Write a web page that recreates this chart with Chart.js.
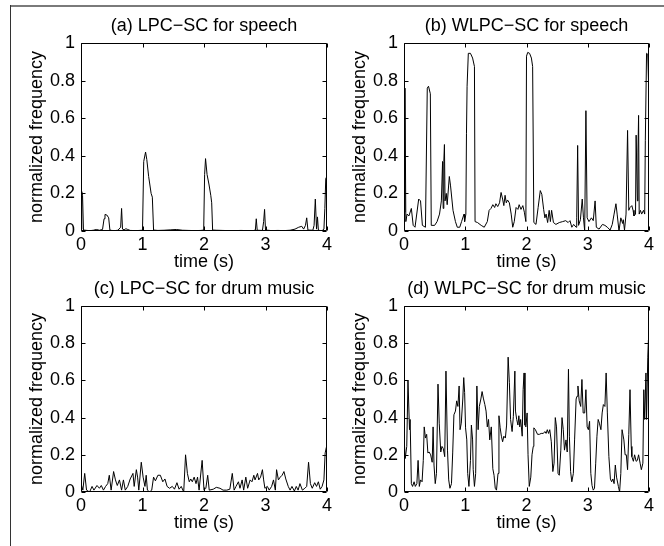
<!DOCTYPE html>
<html>
<head>
<meta charset="utf-8">
<script src="https://cdn.jsdelivr.net/npm/chart.js@4.4.1/dist/chart.umd.min.js"></script>
<style>
  body { margin: 0; background: #fff; }
  #page { position: relative; width: 664px; height: 546px; overflow: hidden; background: #fff; }
  #page canvas { position: absolute; }
  .frameTop { position: absolute; left: 10px; top: 5px; width: 654px; height: 2px; background: #7a7a7a; }
  .frameLeft { position: absolute; left: 10px; top: 5px; width: 1px; height: 541px; background: #333; }
</style>
</head>
<body>
<div id="page">
  <div class="frameTop"></div>
  <div class="frameLeft"></div>
  <canvas id="chartA"></canvas>
  <canvas id="chartB"></canvas>
  <canvas id="chartC"></canvas>
  <canvas id="chartD"></canvas>
</div>
<script>
// ---- data ----
const xTicks = [0, 1, 2, 3, 4]
const yTicks = [0, 0.2, 0.4, 0.6, 0.8, 1]
const xLabel = 'time (s)'
const yLabel = 'normalized frequency'

const titles = [
  '(a) LPC\u2212SC for speech',
  '(b) WLPC\u2212SC for speech',
  '(c) LPC\u2212SC for drum music',
  '(d) WLPC\u2212SC for drum music'
]

// (a) LPC-SC, speech
const timeA = [0, 0.012, 0.025, 0.04, 0.1, 0.15, 0.2, 0.25, 0.3, 0.35, 0.375, 0.39, 0.42, 0.45, 0.47, 0.5, 0.55, 0.6, 0.645, 0.66,
  0.675, 0.7, 0.73, 0.76, 0.8, 0.9, 1.0, 1.02, 1.05, 1.07, 1.1, 1.14, 1.16, 1.18, 1.25, 1.35, 1.45, 1.55, 1.65, 1.75,
  1.85, 1.95, 1.995, 2.01, 2.025, 2.05, 2.08, 2.11, 2.125, 2.14, 2.2, 2.3, 2.4, 2.5, 2.6, 2.7, 2.8, 2.835, 2.85, 2.865,
  2.95, 2.97, 2.985, 3.0, 3.1, 3.2, 3.3, 3.4, 3.48, 3.54, 3.59, 3.62, 3.65, 3.67, 3.69, 3.77, 3.79, 3.81, 3.83, 3.845,
  3.86, 3.88, 3.92, 3.95, 3.965, 3.98, 4.0]
const freqA = [0.01, 0.21, 0.19, 0.005, 0.003, 0.002, 0.004, 0.008, 0.004, 0.008, 0.065, 0.088, 0.085, 0.07, 0.005, 0.003, 0.002, 0.004, 0.02, 0.12,
  0.01, 0.006, 0.012, 0.008, 0.003, 0.002, 0.004, 0.37, 0.42, 0.38, 0.29, 0.2, 0.18, 0.005, 0.003, 0.004, 0.006, 0.008, 0.004, 0.003,
  0.002, 0.003, 0.005, 0.3, 0.385, 0.3, 0.25, 0.19, 0.15, 0.005, 0.004, 0.003, 0.002, 0.002, 0.003, 0.002, 0.002, 0.005, 0.065, 0.004,
  0.003, 0.05, 0.115, 0.005, 0.002, 0.003, 0.002, 0.004, 0.01, 0.02, 0.025, 0.01, 0.03, 0.07, 0.005, 0.004, 0.03, 0.17, 0.01, 0.075,
  0.005, 0.003, 0.002, 0.01, 0.12, 0.28, 0.29]

// (b) WLPC-SC, speech
const timeB = [0, 0.016, 0.03, 0.05, 0.08, 0.12, 0.15, 0.18, 0.24, 0.27, 0.30, 0.35, 0.38, 0.40, 0.43, 0.445, 0.50, 0.54, 0.58, 0.61,
  0.63, 0.64, 0.65, 0.66, 0.67, 0.69, 0.705, 0.74, 0.76, 0.80, 0.84, 0.87, 0.91, 0.94, 0.98, 0.99, 1.01, 1.02, 1.03, 1.05,
  1.085, 1.12, 1.15, 1.16, 1.20, 1.26, 1.31, 1.36, 1.39, 1.42, 1.45, 1.48, 1.50, 1.53, 1.56, 1.585, 1.61, 1.63, 1.65, 1.67,
  1.69, 1.72, 1.75, 1.775, 1.80, 1.83, 1.86, 1.88, 1.91, 1.94, 1.965, 1.99, 2.00, 2.02, 2.05, 2.08, 2.10, 2.12, 2.155, 2.19,
  2.225, 2.25, 2.28, 2.30, 2.32, 2.345, 2.37, 2.39, 2.41, 2.44, 2.48, 2.535, 2.59, 2.64, 2.68, 2.71, 2.74, 2.77, 2.81, 2.82,
  2.835, 2.85, 2.88, 2.91, 2.93, 2.95, 2.97, 2.99, 3.02, 3.06, 3.09, 3.12, 3.14, 3.185, 3.24, 3.28, 3.32, 3.365, 3.40, 3.43,
  3.46, 3.48, 3.51, 3.54, 3.57, 3.58, 3.60, 3.625, 3.65, 3.67, 3.69, 3.72, 3.74, 3.755, 3.78, 3.79, 3.81, 3.82, 3.83, 3.84,
  3.86, 3.88, 3.91, 3.93, 3.94, 3.96, 3.98, 4.0]
const freqB = [0.10, 0.76, 0.05, 0.09, 0.08, 0.12, 0.03, 0.02, 0.17, 0.16, 0.03, 0.02, 0.76, 0.77, 0.73, 0.03, 0.03, 0.05, 0.09, 0.16,
  0.37, 0.12, 0.37, 0.46, 0.16, 0.20, 0.14, 0.29, 0.24, 0.11, 0.05, 0.02, 0.02, 0.05, 0.09, 0.05, 0.09, 0.52, 0.77, 0.945,
  0.945, 0.92, 0.875, 0.05, 0.045, 0.03, 0.02, 0.05, 0.11, 0.12, 0.14, 0.125, 0.145, 0.13, 0.15, 0.205, 0.17, 0.135, 0.19, 0.15,
  0.165, 0.15, 0.09, 0.02, 0.05, 0.125, 0.115, 0.14, 0.115, 0.135, 0.10, 0.05, 0.93, 0.95, 0.945, 0.92, 0.875, 0.045, 0.035, 0.125,
  0.215, 0.195, 0.115, 0.07, 0.09, 0.045, 0.11, 0.05, 0.11, 0.045, 0.035, 0.045, 0.05, 0.055, 0.045, 0.055, 0.02, 0.035, 0.02, 0.07,
  0.455, 0.03, 0.06, 0.17, 0.07, 0.0, 0.64, 0.07, 0.05, 0.07, 0.055, 0.16, 0.02, 0.01, 0.035, 0.03, 0.02, 0.005, 0.035, 0.09,
  0.145, 0.09, 0.0, 0.07, 0.04, 0.06, 0.005, 0.09, 0.535, 0.11, 0.125, 0.135, 0.11, 0.08, 0.09, 0.51, 0.16, 0.42, 0.615, 0.09,
  0.11, 0.09, 0.11, 0.09, 0.48, 0.945, 0.94, 0.70]

// (c) LPC-SC, drum music
const timeC = [0, 0.03, 0.06, 0.09, 0.14, 0.18, 0.21, 0.26, 0.30, 0.33, 0.365, 0.40, 0.435, 0.46, 0.49, 0.53, 0.56, 0.59, 0.625, 0.66,
  0.69, 0.72, 0.76, 0.80, 0.845, 0.865, 0.90, 0.92, 0.94, 0.98, 1.01, 1.04, 1.06, 1.08, 1.115, 1.15, 1.18, 1.21, 1.25, 1.29,
  1.33, 1.365, 1.40, 1.44, 1.485, 1.52, 1.56, 1.595, 1.63, 1.67, 1.70, 1.73, 1.76, 1.785, 1.81, 1.84, 1.87, 1.895, 1.92, 1.97,
  2.00, 2.03, 2.06, 2.085, 2.15, 2.20, 2.26, 2.31, 2.37, 2.42, 2.46, 2.49, 2.52, 2.56, 2.585, 2.62, 2.645, 2.68, 2.71, 2.75,
  2.78, 2.81, 2.83, 2.87, 2.89, 2.92, 2.95, 2.97, 2.99, 3.03, 3.06, 3.10, 3.13, 3.16, 3.18, 3.21, 3.24, 3.27, 3.30, 3.33,
  3.37, 3.40, 3.43, 3.47, 3.50, 3.53, 3.56, 3.60, 3.64, 3.67, 3.70, 3.73, 3.76, 3.80, 3.83, 3.86, 3.89, 3.92, 3.95, 3.97,
  3.99, 4.0]
const freqC = [0.045, 0.01, 0.10, 0.01, 0.0, 0.03, 0.01, 0.035, 0.02, 0.035, 0.01, 0.03, 0.045, 0.09, 0.01, 0.11, 0.065, 0.035, 0.065, 0.01,
  0.065, 0.01, 0.03, 0.07, 0.10, 0.03, 0.12, 0.08, 0.01, 0.16, 0.08, 0.03, 0.09, 0.01, 0.0, 0.01, 0.08, 0.06, 0.09, 0.09,
  0.055, 0.07, 0.03, 0.02, 0.03, 0.015, 0.05, 0.015, 0.03, 0.0, 0.20, 0.10, 0.055, 0.07, 0.055, 0.08, 0.045, 0.08, 0.01, 0.17,
  0.01, 0.02, 0.09, 0.01, 0.015, 0.025, 0.02, 0.01, 0.01, 0.015, 0.10, 0.01, 0.03, 0.055, 0.02, 0.065, 0.01, 0.08, 0.02, 0.065,
  0.055, 0.09, 0.065, 0.10, 0.065, 0.08, 0.12, 0.065, 0.02, 0.03, 0.01, 0.03, 0.065, 0.01, 0.12, 0.065, 0.08, 0.09, 0.11, 0.07,
  0.03, 0.01, 0.03, 0.005, 0.03, 0.01, 0.045, 0.01, 0.02, 0.03, 0.16, 0.045, 0.02, 0.05, 0.03, 0.055, 0.015, 0.03, 0.065, 0.21,
  0.24, 0.17]

// (d) WLPC-SC, drum music
const timeD = [0, 0.02, 0.045, 0.065, 0.09, 0.10, 0.12, 0.14, 0.165, 0.185, 0.21, 0.23, 0.25, 0.27, 0.295, 0.315, 0.33, 0.35, 0.37, 0.39,
  0.41, 0.435, 0.46, 0.475, 0.49, 0.51, 0.53, 0.555, 0.575, 0.60, 0.62, 0.64, 0.665, 0.685, 0.71, 0.73, 0.75, 0.775, 0.795, 0.815,
  0.84, 0.86, 0.88, 0.90, 0.915, 0.935, 0.96, 0.975, 0.99, 1.005, 1.025, 1.04, 1.06, 1.085, 1.10, 1.12, 1.13, 1.15, 1.17, 1.19,
  1.21, 1.23, 1.255, 1.275, 1.295, 1.32, 1.34, 1.36, 1.38, 1.40, 1.425, 1.45, 1.47, 1.49, 1.51, 1.535, 1.55, 1.57, 1.59, 1.61,
  1.63, 1.655, 1.675, 1.70, 1.72, 1.74, 1.765, 1.785, 1.81, 1.82, 1.84, 1.86, 1.875, 1.89, 1.905, 1.93, 1.945, 1.96, 1.975, 1.99,
  2.01, 2.025, 2.045, 2.07, 2.09, 2.11, 2.12, 2.145, 2.18, 2.21, 2.24, 2.275, 2.30, 2.32, 2.34, 2.36, 2.38, 2.405, 2.43, 2.45,
  2.47, 2.49, 2.515, 2.535, 2.56, 2.58, 2.60, 2.62, 2.645, 2.665, 2.685, 2.70, 2.72, 2.74, 2.765, 2.785, 2.81, 2.825, 2.84, 2.86,
  2.885, 2.905, 2.925, 2.95, 2.97, 2.99, 3.01, 3.03, 3.05, 3.07, 3.09, 3.11, 3.13, 3.15, 3.17, 3.19, 3.215, 3.235, 3.255, 3.28,
  3.30, 3.32, 3.345, 3.37, 3.39, 3.41, 3.43, 3.45, 3.47, 3.50, 3.52, 3.54, 3.56, 3.59, 3.61, 3.63, 3.65, 3.67, 3.69, 3.71,
  3.72, 3.745, 3.765, 3.79, 3.81, 3.83, 3.855, 3.875, 3.90, 3.915, 3.93, 3.95, 3.96, 3.98, 3.99, 4.0]
const freqD = [0.30, 0.18, 0.245, 0.60, 0.335, 0.39, 0.045, 0.03, 0.055, 0.03, 0.045, 0.17, 0.03, 0.065, 0.055, 0.17, 0.35, 0.29, 0.31, 0.21,
  0.215, 0.20, 0.16, 0.35, 0.145, 0.045, 0.10, 0.58, 0.37, 0.215, 0.245, 0.235, 0.19, 0.65, 0.225, 0.065, 0.02, 0.045, 0.21, 0.415,
  0.435, 0.49, 0.46, 0.57, 0.335, 0.37, 0.50, 0.615, 0.535, 0.345, 0.28, 0.10, 0.03, 0.17, 0.36, 0.28, 0.12, 0.03, 0.10, 0.57,
  0.335, 0.46, 0.50, 0.54, 0.505, 0.47, 0.435, 0.35, 0.39, 0.28, 0.35, 0.125, 0.09, 0.02, 0.01, 0.10, 0.41, 0.345, 0.30, 0.27,
  0.30, 0.29, 0.36, 0.725, 0.59, 0.39, 0.325, 0.405, 0.65, 0.435, 0.39, 0.36, 0.41, 0.35, 0.39, 0.30, 0.55, 0.64, 0.36, 0.35,
  0.425, 0.20, 0.03, 0.08, 0.20, 0.245, 0.345, 0.335, 0.31, 0.31, 0.315, 0.315, 0.325, 0.315, 0.335, 0.315, 0.335, 0.27, 0.11, 0.155,
  0.40, 0.35, 0.10, 0.09, 0.225, 0.40, 0.335, 0.225, 0.28, 0.215, 0.66, 0.30, 0.11, 0.055, 0.10, 0.28, 0.50, 0.515, 0.57, 0.49,
  0.46, 0.605, 0.425, 0.425, 0.55, 0.35, 0.335, 0.38, 0.10, 0.035, 0.01, 0.02, 0.155, 0.30, 0.39, 0.37, 0.335, 0.425, 0.47, 0.46,
  0.64, 0.425, 0.19, 0.07, 0.055, 0.07, 0.045, 0.145, 0.08, 0.03, 0.0, 0.10, 0.335, 0.28, 0.20, 0.20, 0.12, 0.31, 0.55, 0.245,
  0.19, 0.165, 0.20, 0.165, 0.17, 0.20, 0.155, 0.12, 0.155, 0.55, 0.39, 0.64, 0.39, 0.725, 0.815, 0.82]

// ---- layout: plot boxes in page pixels ----
const boxes = [
  { id: 'chartA', left: 81, top: 43, right: 327, bottom: 231 },
  { id: 'chartB', left: 404, top: 43, right: 649, bottom: 231 },
  { id: 'chartC', left: 81, top: 306, right: 327, bottom: 492 },
  { id: 'chartD', left: 404, top: 306, right: 649, bottom: 492 }
]
const series = [[timeA, freqA], [timeB, freqB], [timeC, freqC], [timeD, freqD]]

const AXIS_W = 60   // space left of the plot
const TITLE_H = 35  // space above the plot
const XAXIS_H = 42  // space below the plot
const RIGHT_PAD = 10
const FONT = { family: 'Liberation Sans, Arial, Helvetica, sans-serif', size: 18 }
const LINE_H = FONT.size * 1.2
const TITLE_MID = 18 // title centre, px below canvas top

Chart.defaults.font.family = FONT.family
Chart.defaults.color = '#000'

// matlab-ish box with inward ticks on all four sides
const boxTicks = {
  id: 'boxTicks',
  afterDatasetsDraw(chart) {
    const { ctx, chartArea: a, scales: { x, y } } = chart
    const L = Math.round(a.left) + 0.5
    const R = Math.round(a.right) - 0.5
    const T = Math.round(a.top) + 0.5
    const B = Math.round(a.bottom) - 0.5
    const len = 4
    ctx.save()
    ctx.strokeStyle = '#000'
    ctx.lineWidth = 1
    ctx.beginPath()
    ctx.rect(L, T, R - L, B - T)
    xTicks.forEach(v => {
      const px = Math.round(x.getPixelForValue(v)) + 0.5
      ctx.moveTo(px, B); ctx.lineTo(px, B - len)
      ctx.moveTo(px, T); ctx.lineTo(px, T + len)
    })
    yTicks.forEach(v => {
      const py = Math.round(y.getPixelForValue(v)) + 0.5
      ctx.moveTo(L, py); ctx.lineTo(L + len, py)
      ctx.moveTo(R, py); ctx.lineTo(R - len, py)
    })
    ctx.stroke()
    ctx.restore()
  }
}

function makeChart(box, title, times, values) {
  const canvas = document.getElementById(box.id)
  const w = (box.right - box.left) + AXIS_W + RIGHT_PAD
  const h = (box.bottom - box.top) + TITLE_H + XAXIS_H
  canvas.width = w
  canvas.height = h
  canvas.style.left = (box.left - AXIS_W) + 'px'
  canvas.style.top = (box.top - TITLE_H) + 'px'
  canvas.style.width = w + 'px'
  canvas.style.height = h + 'px'

  const points = times.map((t, i) => ({ x: t, y: values[i] }))

  new Chart(canvas, {
    type: 'line',
    data: {
      datasets: [{
        data: points,
        borderColor: '#000',
        borderWidth: 1,
        pointRadius: 0,
        tension: 0,
        fill: false
      }]
    },
    options: {
      responsive: false,
      animation: false,
      devicePixelRatio: 1,
      layout: { padding: { left: 0, right: RIGHT_PAD, top: 0, bottom: 0 } },
      plugins: {
        legend: { display: false },
        tooltip: { enabled: false },
        title: {
          display: true,
          text: title,
          fullSize: false,
          color: '#000',
          font: { size: FONT.size, weight: 'normal' },
          padding: { top: TITLE_MID - LINE_H / 2, bottom: TITLE_H - (TITLE_MID - LINE_H / 2) - LINE_H }
        }
      },
      scales: {
        x: {
          type: 'linear',
          min: 0,
          max: 4,
          grid: { display: false, drawTicks: false },
          border: { display: false },
          afterBuildTicks: s => { s.ticks = xTicks.map(v => ({ value: v })) },
          afterFit: s => { s.height = XAXIS_H },
          ticks: { padding: 3, color: '#000', font: { size: FONT.size }, maxRotation: 0, callback: v => String(v) },
          title: { display: true, text: xLabel, color: '#000', font: { size: FONT.size }, padding: { top: 0, bottom: 0 } }
        },
        y: {
          type: 'linear',
          min: 0,
          max: 1,
          grid: { display: false, drawTicks: false },
          border: { display: false },
          afterBuildTicks: s => { s.ticks = yTicks.map(v => ({ value: v })) },
          afterFit: s => { s.width = AXIS_W },
          ticks: { padding: 6, color: '#000', font: { size: FONT.size }, callback: v => String(v) },
          title: { display: true, text: yLabel, color: '#000', font: { size: FONT.size }, padding: { top: 16 - LINE_H / 2, bottom: 0 } }
        }
      }
    },
    plugins: [boxTicks]
  })
}

boxes.forEach((b, i) => makeChart(b, titles[i], series[i][0], series[i][1]))
</script>
</body>
</html>
